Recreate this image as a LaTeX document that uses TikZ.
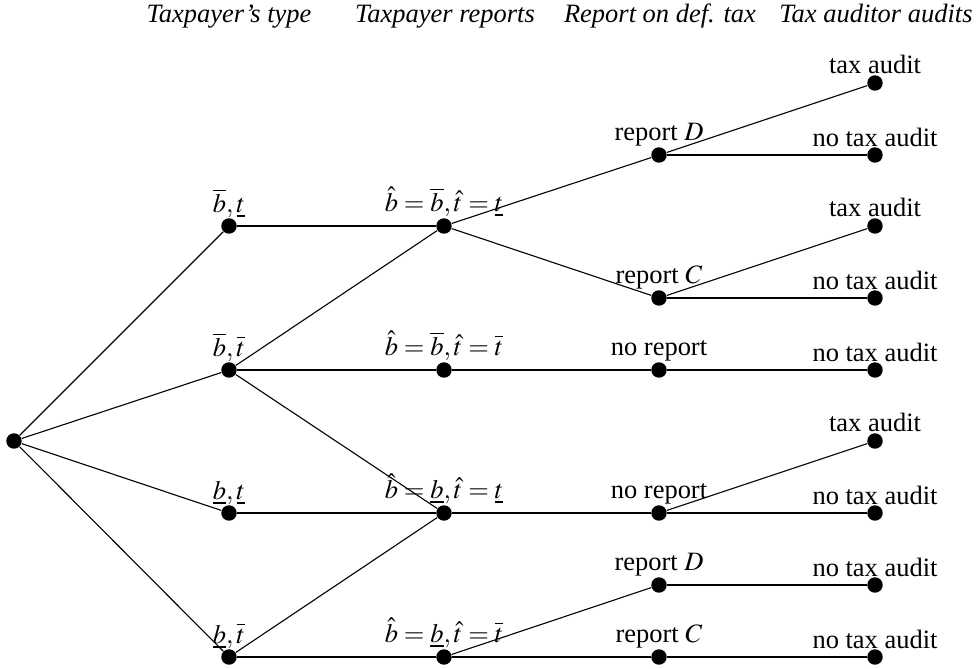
\documentclass[tikz,border=0pt]{standalone}
\usepackage{mathptmx}
\usepackage{fontspec}
\setmainfont{Liberation Serif}
\begin{document}
\begin{tikzpicture}[x=0.4533pt,y=-0.4533pt,
  font=\fontsize{12}{14}\selectfont,
  dot/.style={circle,fill=black,inner sep=0pt,minimum size=7pt},
  lab/.style={anchor=base,inner sep=0pt},
  head/.style={anchor=base,inner sep=0pt,font=\fontsize{12}{14}\selectfont\itshape},
  edge/.style={line width=0.5pt}]
\useasboundingbox (0,0) rectangle (977,668);
% headers
\node[head] (h1) at (229,22) {Taxpayer's type};
\node[head] (h2) at (445,22) {Taxpayer reports};
\node[head] (h3) at (660,22) {Report on def. tax};
\node[head] (h4) at (876,22) {Tax auditor audits};
% nodes
\node[dot] (r) at (14,441) {};
\node[dot] (a1) at (229,226) {};
\node[dot] (a2) at (229,370) {};
\node[dot] (a3) at (229,513) {};
\node[dot] (a4) at (229,657) {};
\node[dot] (b1) at (444,226) {};
\node[dot] (b2) at (444,370) {};
\node[dot] (b3) at (444,513) {};
\node[dot] (b4) at (444,657) {};
\node[dot] (c1) at (659,155) {};
\node[dot] (c2) at (659,298) {};
\node[dot] (c3) at (659,370) {};
\node[dot] (c4) at (659,513) {};
\node[dot] (c5) at (659,585) {};
\node[dot] (c6) at (659,657) {};
\node[dot] (d1) at (875,83) {};
\node[dot] (d2) at (875,155) {};
\node[dot] (d3) at (875,226) {};
\node[dot] (d4) at (875,298) {};
\node[dot] (d5) at (875,370) {};
\node[dot] (d6) at (875,441) {};
\node[dot] (d7) at (875,513) {};
\node[dot] (d8) at (875,585) {};
\node[dot] (d9) at (875,657) {};
% labels
\node[lab] (la1) at (229,212) {$\overline{b},\underline{t}$};
\node[lab] (la2) at (229,356) {$\overline{b},\overline{t}$};
\node[lab] (la3) at (229,499) {$\underline{b},\underline{t}$};
\node[lab] (la4) at (229,643) {$\underline{b},\overline{t}$};
\node[lab] (lb1) at (444,211) {$\hat{b}=\overline{b},\hat{t}=\underline{t}$};
\node[lab] (lb2) at (444,355) {$\hat{b}=\overline{b},\hat{t}=\overline{t}$};
\node[lab] (lb3) at (444,498) {$\hat{b}=\underline{b},\hat{t}=\underline{t}$};
\node[lab] (lb4) at (444,642) {$\hat{b}=\underline{b},\hat{t}=\overline{t}$};
\node[lab] (lc1) at (659,140) {report $D$};
\node[lab] (lc2) at (659,283) {report $C$};
\node[lab] (lc3) at (659,355) {no report};
\node[lab] (lc4) at (659,498) {no report};
\node[lab] (lc5) at (659,570) {report $D$};
\node[lab] (lc6) at (659,642) {report $C$};
\node[lab] (ld1) at (875,73) {tax audit};
\node[lab] (ld2) at (875,146) {no tax audit};
\node[lab] (ld3) at (875,216) {tax audit};
\node[lab] (ld4) at (875,289) {no tax audit};
\node[lab] (ld5) at (875,361) {no tax audit};
\node[lab] (ld6) at (875,431) {tax audit};
\node[lab] (ld7) at (875,504) {no tax audit};
\node[lab] (ld8) at (875,576) {no tax audit};
\node[lab] (ld9) at (875,648) {no tax audit};
% edges
\draw[edge] (r) -- (a1);
\draw[edge] (r) -- (a2);
\draw[edge] (r) -- (a3);
\draw[edge] (r) -- (a4);
\draw[edge] (a1) -- (b1);
\draw[edge] (a2) -- (b1);
\draw[edge] (a2) -- (b2);
\draw[edge] (a2) -- (b3);
\draw[edge] (a3) -- (b3);
\draw[edge] (a4) -- (b3);
\draw[edge] (a4) -- (b4);
\draw[edge] (b1) -- (c1);
\draw[edge] (b1) -- (c2);
\draw[edge] (b2) -- (c3);
\draw[edge] (b3) -- (c4);
\draw[edge] (b4) -- (c5);
\draw[edge] (b4) -- (c6);
\draw[edge] (c1) -- (d1);
\draw[edge] (c1) -- (d2);
\draw[edge] (c2) -- (d3);
\draw[edge] (c2) -- (d4);
\draw[edge] (c3) -- (d5);
\draw[edge] (c4) -- (d6);
\draw[edge] (c4) -- (d7);
\draw[edge] (c5) -- (d8);
\draw[edge] (c6) -- (d9);
\end{tikzpicture}
\end{document}
